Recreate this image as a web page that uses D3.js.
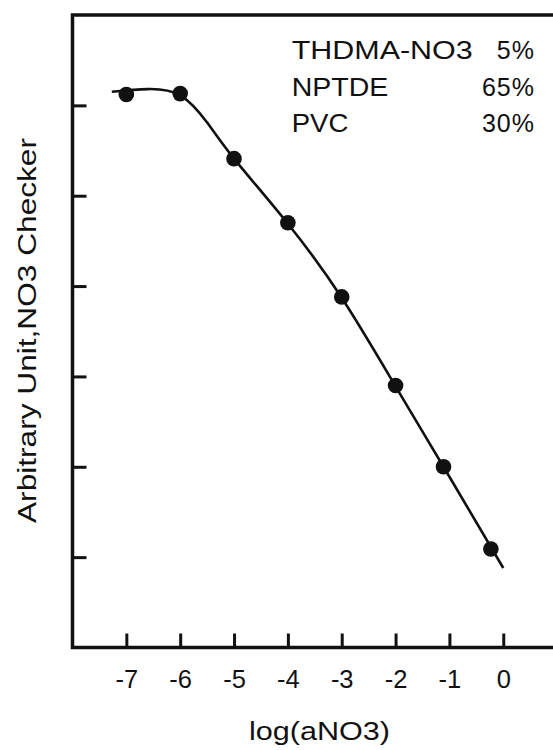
<!DOCTYPE html>
<html>
<head>
<meta charset="utf-8">
<script src="https://cdn.jsdelivr.net/npm/d3@7"></script>
<style>
  body { margin: 0; background: #fff; }
  text { font-family: "Liberation Sans", Arial, sans-serif; fill: #111; }
</style>
</head>
<body>
<div id="chart"></div>
<script>
// measured points
const logA = [-7, -6, -5, -4, -3, -2, -1.11, -0.23];
const signal = [6.12, 6.13, 5.41, 4.70, 3.88, 2.90, 2.00, 1.09];

// fitted curve drawn through the points
const fitX = [-7.27, -6.6, -6.0, -5.5, -5.0, -4.0, -3.0, -2.0, -1.0, 0];
const fitY = [6.15, 6.18, 6.11, 5.81, 5.41, 4.69, 3.87, 2.89, 1.89, 0.88];

const xTicks = [-7, -6, -5, -4, -3, -2, -1, 0];
const yTicks = [1, 2, 3, 4, 5, 6];

const legendNames = ["THDMA-NO3", "NPTDE", "PVC"];
const legendValues = ["5%", "65%", "30%"];

let margin = { top: 15, right: 0, bottom: 102.5, left: 72.5 },
    width = 553 - margin.left - margin.right,
    height = 750 - margin.top - margin.bottom;

let root = d3.select("#chart")
    .append("svg")
    .attr("width", 553)
    .attr("height", 750);

let svg = root.append("g")
    .attr("transform", "translate(" + margin.left + "," + margin.top + ")");

let x = d3.scaleLinear()
    .domain([-8, 1])
    .range([0, 484.6]);

let y = d3.scaleLinear()
    .domain([0, 7])
    .range([height, 0]);

// frame (right side falls outside the picture)
svg.append("path")
    .attr("d", "M" + x(1) + "," + y(7) + "H" + x(-8) + "V" + y(0) + "H" + x(1))
    .attr("fill", "none")
    .attr("stroke", "#111")
    .attr("stroke-width", 3.5);

// x axis, ticks pointing inward
let gx = svg.append("g")
    .attr("transform", "translate(0," + height + ")")
    .call(d3.axisBottom(x).tickValues(xTicks).tickSizeInner(-14).tickSizeOuter(0).tickPadding(22).tickFormat(d3.format("d")));
gx.select(".domain").remove();
gx.selectAll("line").attr("stroke", "#111").attr("stroke-width", 3);
gx.selectAll("text")
    .attr("fill", "#111")
    .style("font-size", "25.5px")
    .style("font-family", "'Liberation Sans', Arial, sans-serif")
    .text(function (d) { return d < 0 ? "-" + Math.abs(d) : d; });

// y axis, no labels
let gy = svg.append("g")
    .call(d3.axisLeft(y).tickValues(yTicks).tickSizeInner(-14).tickSizeOuter(0).tickFormat(""));
gy.select(".domain").remove();
gy.selectAll("line").attr("stroke", "#111").attr("stroke-width", 3);

// fitted line
let fit = fitX.map(function (d, i) { return { x: d, y: fitY[i] }; });
svg.append("path")
    .datum(fit)
    .attr("fill", "none")
    .attr("stroke", "#111")
    .attr("stroke-width", 2.6)
    .attr("d", d3.line()
        .curve(d3.curveNatural)
        .x(function (d) { return x(d.x); })
        .y(function (d) { return y(d.y); })
    );

// points
let pts = logA.map(function (d, i) { return { x: d, y: signal[i] }; });
svg.append("g")
    .selectAll("circle")
    .data(pts)
    .enter()
    .append("circle")
    .attr("cx", function (d) { return x(d.x); })
    .attr("cy", function (d) { return y(d.y); })
    .attr("r", 7.8)
    .attr("fill", "#111");

// composition legend
let nameWidths = [181, 96.7, 56.7];
let legend = root.append("g");
legendNames.forEach(function (name, i) {
    let by = 59.3 + i * 36.2;
    legend.append("text")
        .attr("x", 291.7)
        .attr("y", by)
        .attr("textLength", nameWidths[i])
        .attr("lengthAdjust", "spacingAndGlyphs")
        .style("font-size", "25px")
        .text(name);
    legend.append("text")
        .attr("x", 535)
        .attr("y", by)
        .attr("text-anchor", "end")
        .style("font-size", "25px")
        .style("letter-spacing", "1px")
        .text(legendValues[i]);
});

// axis titles
root.append("text")
    .attr("x", 249)
    .attr("y", 740)
    .attr("textLength", 141)
    .attr("lengthAdjust", "spacingAndGlyphs")
    .style("font-size", "26px")
    .text("log(aNO3)");

root.append("text")
    .attr("transform", "translate(36,523) rotate(-90)")
    .attr("textLength", 385)
    .attr("lengthAdjust", "spacingAndGlyphs")
    .style("font-size", "26.5px")
    .text("Arbitrary Unit,NO3 Checker");
</script>
</body>
</html>
